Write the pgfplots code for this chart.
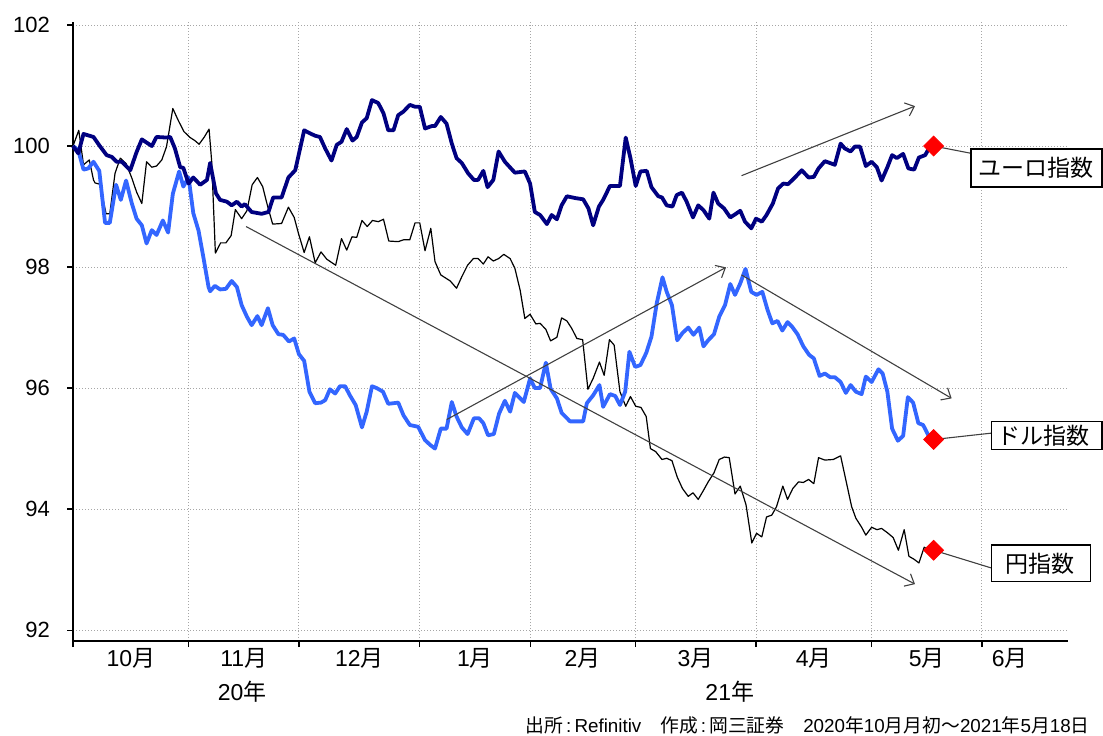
\documentclass[border=0pt]{standalone}
\usepackage{fontspec}
\setmainfont{Liberation Sans}
\newfontfamily\cjk{Noto Sans CJK JP}
\usepackage{pgfplots}
\pgfplotsset{compat=1.18}
\usetikzlibrary{arrows.meta}
\definecolor{euro}{HTML}{000080}
\definecolor{dollar}{HTML}{3366FF}
\definecolor{arrowc}{HTML}{404040}
\definecolor{gridc}{HTML}{A6A6A6}
\begin{document}
\begin{tikzpicture}
\begin{axis}[
  scale only axis, width=497.5pt, height=309.5pt,
  at={(0pt,0pt)}, anchor=south west,
  xmin=0, xmax=189.38, ymin=91.82, ymax=102.05,
  axis lines*=left,
  axis line style={black, line width=0.6pt},
  xtick={0,22,43,66,87,107,130,152,173},
  xticklabels={,,,,,,,,},
  ytick={92,94,...,102},
  tick align=outside, major tick length=3pt,
  tick style={black, line width=0.6pt},
  grid=major,
  major grid style={gridc, line width=0.5pt, dash pattern=on 0.5pt off 1pt},
  extra x ticks={11,32.5,54.5,76.5,97,118.5,141,162.5,178.3},
  extra x tick labels={10{\cjk 月},11{\cjk 月},12{\cjk 月},1{\cjk 月},2{\cjk 月},3{\cjk 月},4{\cjk 月},5{\cjk 月},6{\cjk 月}},
  extra x tick style={grid=none, major tick length=0pt, tick label style={font=\fontsize{11.5}{13}\selectfont}},
  tick label style={font=\fontsize{11}{13}\selectfont},
  yticklabel style={xshift=-5pt},
  /pgf/number format/assume math mode=true,
  clip=false,
]
% Yen index
\addplot[black, line width=0.6pt, line join=round] coordinates {
(0,100.0)(1.1,100.26)(2.0,99.69)(3.1,99.77)(3.9,99.44)(4.2,99.39)(5.1,99.37)(6.3,98.88)(7.0,98.88)(8.0,99.55)(9.0,99.8)(10.1,99.71)(11.2,99.47)(12.1,99.24)(13.1,99.05)(14.0,99.74)(15.0,99.65)(15.9,99.67)(16.9,99.77)(17.8,99.99)(19.0,100.62)(20.0,100.43)(21.1,100.24)(22.3,100.14)(23.2,100.09)(24.0,100.03)(25.0,100.15)(25.9,100.28)(26.4,99.74)(27.1,98.23)(28.1,98.4)(29.1,98.4)(30.1,98.52)(30.9,98.95)(32.1,98.8)(33.1,98.93)(34.1,99.36)(35.1,99.48)(36.1,99.33)(37.0,99.02)(38.0,98.71)(39.7,98.72)(41.0,98.99)(42.1,98.82)(42.9,98.56)(44.0,98.24)(45.0,98.5)(46.1,98.07)(47.2,98.25)(48.3,98.13)(50.0,98.03)(51.1,98.47)(52.1,98.28)(53.1,98.5)(54.0,98.49)(55.0,98.77)(56.0,98.67)(57.0,98.77)(58.1,98.75)(59.1,98.79)(60.1,98.43)(61.9,98.42)(62.9,98.45)(64.1,98.45)(65.1,98.73)(66.0,98.73)(67.0,98.27)(68.1,98.64)(68.9,98.09)(70.0,97.87)(71.8,97.77)(73.0,97.65)(74.0,97.84)(75.1,98.03)(76.2,98.14)(77.1,98.14)(78.1,98.05)(79.0,98.17)(80.0,98.1)(81.0,98.14)(82.0,98.21)(83.2,98.14)(84.1,97.98)(85.1,97.62)(86.0,97.15)(87.0,97.22)(88.1,97.06)(88.9,97.07)(90.0,96.97)(90.9,96.78)(92.1,96.84)(93.0,97.16)(94.0,97.11)(94.9,96.99)(95.9,96.82)(97.0,96.8)(98.0,95.98)(99.0,96.16)(100.2,96.43)(101.1,96.21)(102.1,96.8)(103.0,96.71)(104.1,95.94)(105.2,95.7)(106.1,95.86)(107.1,95.7)(108.1,95.68)(109.1,95.53)(109.9,95.0)(110.9,94.95)(112.1,94.82)(113.0,94.84)(114.0,94.8)(115.0,94.53)(116.0,94.34)(117.1,94.21)(118.0,94.27)(119.0,94.16)(120.0,94.31)(120.9,94.45)(122.0,94.6)(123.0,94.82)(124.0,94.86)(124.9,94.85)(126.0,94.25)(127.0,94.38)(128.1,94.07)(129.2,93.44)(130.1,93.6)(131.1,93.54)(132.0,93.87)(133.0,93.9)(133.9,94.04)(135.1,94.38)(136.0,94.16)(137.0,94.34)(138.1,94.45)(139.0,94.44)(140.0,94.49)(141.0,94.42)(141.9,94.85)(143.1,94.81)(144.7,94.82)(146.1,94.88)(147.3,94.4)(148.2,94.04)(149.0,93.85)(150.1,93.7)(150.9,93.57)(152.0,93.7)(153.0,93.66)(153.9,93.68)(155.0,93.61)(156.1,93.53)(157.1,93.32)(158.2,93.66)(159.1,93.22)(160.1,93.17)(161.0,93.11)(162.0,93.37)(162.8,93.33)(163.8,93.32)
};
% Dollar index
\addplot[dollar, line width=1.9pt, line join=round] coordinates {
(0,100.0)(1.0,99.93)(2.0,99.61)(2.9,99.63)(3.9,99.74)(5.0,99.59)(6.1,98.73)(7.0,98.73)(8.2,99.36)(9.1,99.11)(10.1,99.43)(11.2,99.05)(12.1,98.8)(13.1,98.69)(14.0,98.39)(15.0,98.61)(15.9,98.53)(17.1,98.77)(18.1,98.57)(19.0,99.21)(20.2,99.58)(21.0,99.33)(22.0,99.48)(22.9,98.89)(23.9,98.6)(24.9,98.12)(25.8,97.67)(26.1,97.6)(27.0,97.69)(28.0,97.63)(29.1,97.64)(30.2,97.77)(31.2,97.67)(32.1,97.37)(33.1,97.18)(34.0,97.04)(35.1,97.19)(35.9,97.04)(37.1,97.32)(38.0,97.04)(39.1,96.89)(40.0,96.88)(41.1,96.77)(42.1,96.82)(43.0,96.56)(44.0,96.45)(45.0,95.94)(46.1,95.75)(47.2,95.76)(48.0,95.8)(48.9,95.98)(49.9,95.91)(50.8,96.03)(51.8,96.03)(52.7,95.88)(53.8,95.72)(55.0,95.35)(55.9,95.61)(56.9,96.03)(57.8,96.0)(59.0,95.94)(60.0,95.74)(61.0,95.75)(61.9,95.76)(62.9,95.55)(64.1,95.39)(65.7,95.36)(67.0,95.14)(68.0,95.06)(68.9,95.0)(70.0,95.33)(71.1,95.33)(72.1,95.77)(73.0,95.53)(74.0,95.35)(75.1,95.24)(76.3,95.5)(77.3,95.5)(78.1,95.42)(79.0,95.22)(80.1,95.24)(81.1,95.58)(82.2,95.79)(83.2,95.61)(84.1,95.92)(85.8,95.77)(87.0,96.16)(87.9,96.0)(88.9,96.0)(90.0,96.42)(90.9,95.99)(92.1,95.83)(93.0,95.59)(94.6,95.45)(97.1,95.45)(97.8,95.75)(99.0,95.88)(100.2,96.05)(100.9,95.69)(102.2,95.9)(103.2,95.87)(104.1,95.72)(105.1,95.94)(105.9,96.6)(107.0,96.35)(108.0,96.38)(109.1,96.58)(110.1,96.85)(111.1,97.4)(112.2,97.83)(113.0,97.59)(114.0,97.37)(115.0,96.79)(116.0,96.91)(117.1,97.0)(118.1,96.88)(119.2,97.0)(120.0,96.69)(120.9,96.79)(122.0,96.89)(123.0,97.18)(124.1,97.37)(125.1,97.72)(126.0,97.54)(127.0,97.73)(128.0,97.97)(129.1,97.59)(130.1,97.54)(131.2,97.59)(132.2,97.29)(133.1,97.07)(134.1,97.11)(135.0,96.95)(136.0,97.09)(136.9,97.01)(137.9,96.89)(139.0,96.69)(140.1,96.55)(141.0,96.49)(142.1,96.2)(143.1,96.24)(144.1,96.18)(145.0,96.18)(146.1,96.1)(147.1,95.92)(148.0,96.05)(149.0,95.94)(150.1,95.9)(150.9,96.19)(152.0,96.1)(153.3,96.31)(154.1,96.24)(155.0,95.94)(155.9,95.33)(157.0,95.13)(158.0,95.21)(158.9,95.85)(159.9,95.76)(160.9,95.42)(161.8,95.39)(162.8,95.22)(163.8,95.15)
};
% Euro index
\addplot[euro, line width=1.9pt, line join=round] coordinates {
(0,100.0)(1.0,99.88)(2.0,100.2)(3.9,100.15)(5.1,100.0)(6.4,99.85)(7.4,99.82)(8.3,99.74)(9.3,99.74)(10.9,99.6)(12.1,99.9)(13.1,100.11)(15.0,100.0)(15.9,100.15)(17.8,100.14)(18.5,100.15)(19.4,99.96)(20.4,99.65)(21.0,99.64)(22.0,99.38)(22.9,99.48)(24.2,99.36)(25.5,99.44)(26.1,99.72)(27.2,99.22)(28.0,99.11)(29.3,99.08)(30.2,99.02)(31.2,99.08)(32.1,99.0)(32.7,99.04)(34.0,98.91)(35.9,98.88)(37.2,98.91)(38.1,99.15)(39.7,99.15)(41.0,99.48)(42.3,99.6)(44.0,100.26)(45.1,100.21)(46.1,100.17)(47.0,100.15)(48.0,99.96)(49.2,99.76)(50.2,100.02)(51.1,100.07)(52.1,100.28)(53.2,100.09)(54.0,100.15)(55.0,100.39)(55.9,100.46)(56.9,100.76)(58.1,100.71)(59.1,100.54)(60.0,100.26)(61.0,100.26)(61.9,100.51)(62.9,100.57)(64.1,100.68)(65.1,100.65)(66.0,100.65)(67.0,100.29)(68.3,100.33)(68.9,100.33)(70.0,100.48)(71.1,100.37)(72.1,100.04)(73.0,99.8)(74.0,99.72)(75.2,99.55)(76.3,99.44)(77.1,99.44)(78.1,99.59)(78.9,99.32)(80.0,99.44)(81.0,99.91)(82.2,99.74)(84.1,99.56)(86.0,99.58)(87.0,99.38)(87.9,98.91)(88.9,98.86)(90.2,98.71)(91.1,98.86)(92.1,98.79)(93.0,99.02)(94.0,99.17)(95.6,99.14)(97.1,99.12)(98.1,98.97)(99.0,98.69)(100.1,99.0)(100.9,99.11)(102.2,99.34)(104.1,99.34)(105.2,100.14)(106.1,99.8)(107.1,99.34)(108.0,99.58)(109.2,99.59)(110.1,99.32)(111.4,99.17)(112.1,99.15)(113.0,99.02)(114.1,99.0)(114.9,99.19)(115.9,99.23)(116.8,99.08)(118.0,98.82)(119.0,99.02)(120.0,98.94)(121.1,98.8)(121.9,99.23)(122.8,99.05)(123.9,98.97)(125.1,98.82)(126.0,98.87)(127.0,98.93)(127.9,98.75)(129.1,98.64)(130.0,98.8)(131.1,98.75)(132.0,98.86)(133.2,99.05)(134.2,99.3)(135.2,99.38)(136.1,99.37)(137.4,99.48)(138.7,99.6)(140.0,99.48)(141.0,99.49)(141.9,99.63)(143.1,99.75)(145.0,99.69)(146.1,100.04)(146.9,99.96)(148.0,99.91)(148.8,99.99)(149.8,99.99)(150.9,99.67)(152.0,99.74)(153.0,99.65)(153.9,99.43)(155.0,99.65)(155.9,99.85)(156.8,99.8)(158.0,99.87)(159.0,99.63)(160.1,99.61)(161.0,99.81)(162.2,99.85)(163.1,99.99)(163.8,100.0)
};
% trend arrows
\draw[arrowc, line width=0.55pt, -{Straight Barb[length=4pt,width=7pt]}] (axis cs:32.93,98.67) -- (axis cs:160.26,92.76);
\draw[arrowc, line width=0.55pt, -{Straight Barb[length=4pt,width=7pt]}] (axis cs:71.13,95.48) -- (axis cs:124.29,97.995);
\draw[arrowc, line width=0.55pt, -{Straight Barb[length=4pt,width=7pt]}] (axis cs:127.24,97.87) -- (axis cs:167.24,95.83);
\draw[arrowc, line width=0.55pt, -{Straight Barb[length=4pt,width=7pt]}] (axis cs:127.24,99.51) -- (axis cs:160.26,100.66);
% leader lines
\draw[arrowc, line width=0.55pt] (axis cs:163.8,100.0) -- (axis cs:170.92,99.88);
\draw[arrowc, line width=0.55pt] (axis cs:163.8,95.15) -- (axis cs:174.86,95.256);
\draw[arrowc, line width=0.55pt] (axis cs:163.8,93.32) -- (axis cs:174.86,93.025);
% end markers
\addplot[only marks, mark=square*, mark size=3.5pt, mark options={rotate=45, fill=red, draw=red}] coordinates {(163.8,100.0)(163.8,95.15)(163.8,93.32)};
% label boxes
\draw[black, line width=0.6pt, fill=white] (axis cs:170.92,99.95) rectangle (axis cs:195.85,99.322);
\node[font=\fontsize{11.5}{13}\selectfont\cjk] at (axis cs:183.3,99.636) {ユーロ指数};
\draw[black, line width=0.6pt, fill=white] (axis cs:174.86,95.443) rectangle (axis cs:195.85,94.987);
\node[font=\fontsize{11.5}{13}\selectfont\cjk] at (axis cs:184.7,95.215) {ドル指数};
\draw[black, line width=0.6pt, fill=white] (axis cs:174.86,93.405) rectangle (axis cs:193.70,92.798);
\node[font=\fontsize{11.5}{13}\selectfont\cjk] at (axis cs:184.0,93.10) {円指数};
% year labels
\node[font=\fontsize{11.5}{13}\selectfont] at (axis cs:32.2,90.975) {20{\cjk 年}};
\node[font=\fontsize{11.5}{13}\selectfont] at (axis cs:125.0,90.975) {21{\cjk 年}};
% source
\node[anchor=east, inner sep=0pt, font=\fontsize{9.4}{11}\selectfont] at (axis cs:193.57,90.43) {{\cjk 出所}\,:\,Refinitiv{\cjk 　作成}\,:\,{\cjk 岡三証券}\quad 2020{\cjk 年}10{\cjk 月月初～}2021{\cjk 年}5{\cjk 月}18{\cjk 日}};
\end{axis}
\pgfresetboundingbox
\path[use as bounding box] (-36.5pt,-47pt) rectangle (515pt,320.5pt);
\end{tikzpicture}
\end{document}
